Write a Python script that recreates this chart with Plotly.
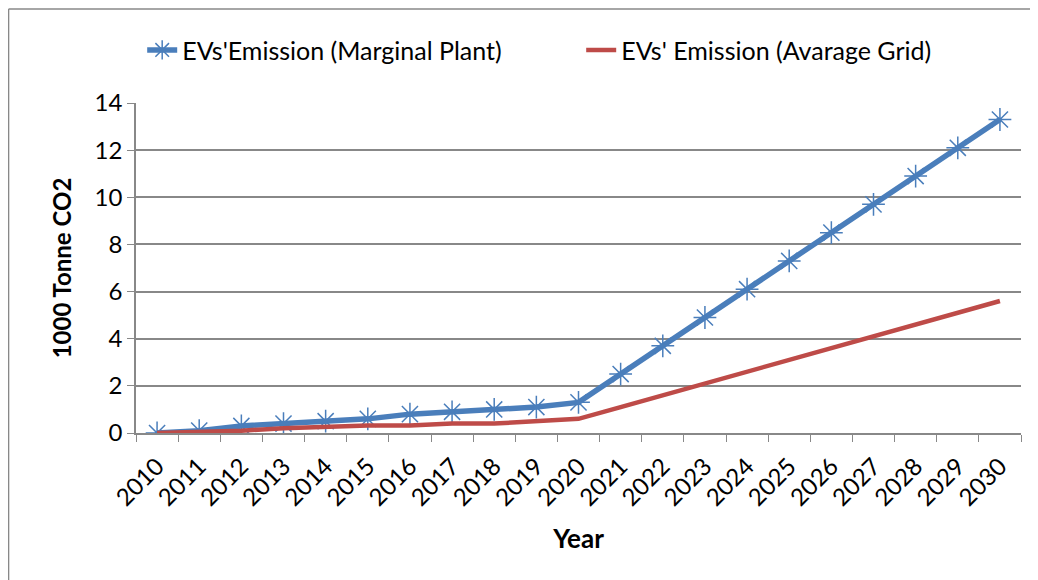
import plotly.graph_objects as go

years = [str(y) for y in range(2010, 2031)]
marginal = [0, 0.1, 0.3, 0.4, 0.5, 0.6, 0.8, 0.9, 1.0, 1.1, 1.3,
            2.5, 3.7, 4.9, 6.1, 7.3, 8.5, 9.7, 10.9, 12.1, 13.3]
average = [0, 0.05, 0.1, 0.2, 0.25, 0.32, 0.32, 0.4, 0.4, 0.48, 0.6,
           1.1, 1.6, 2.1, 2.6, 3.1, 3.6, 4.1, 4.6, 5.1, 5.6]

FONT = "Lato"

fig = go.Figure()
fig.add_trace(go.Scatter(
    x=years, y=marginal, name="EVs'Emission (Marginal Plant)",
    mode="lines+markers",
    line=dict(color="#4a7ebb", width=5.5),
    marker=dict(symbol="asterisk-open", size=19, line=dict(color="#4a7ebb", width=1.5)),
))
fig.add_trace(go.Scatter(
    x=years, y=average, name="EVs' Emission (Avarage Grid)",
    mode="lines",
    line=dict(color="#be4b48", width=4.5),
))

# chart frame: only top and left edges are visible in the window
frame = dict(color="#888888", width=1.5)

# page has an 8px body margin, so the figure is sized to fit the window
fig.update_layout(
    width=1030, height=572,
    margin=dict(l=128, r=17, t=95, b=147, autoexpand=False),
    paper_bgcolor="white", plot_bgcolor="white",
    font=dict(family=FONT, size=24, color="black"),
    showlegend=True,
    legend=dict(orientation="h", x=0.007, xanchor="left", y=1.16, yanchor="middle",
                font=dict(size=25), entrywidth=394, entrywidthmode="pixels",
                tracegroupgap=0),
    shapes=[
        dict(type="line", xref="paper", yref="paper",
             x0=-0.144, x1=1.05, y0=1.285, y1=1.285, line=frame, layer="below"),
        dict(type="line", xref="paper", yref="paper",
             x0=-0.144, x1=-0.144, y0=-0.5, y1=1.285, line=frame, layer="below"),
    ],
)
fig.update_xaxes(
    type="category", range=[-0.5, 20.5],
    tickangle=-45, tickson="boundaries", ticks="outside", ticklen=7,
    ticklabelstandoff=8,
    tickcolor="#888888", showline=True, linecolor="#888888", linewidth=1.5,
    showgrid=False,
    title=dict(text="<b>Year</b>", font=dict(size=26), standoff=20),
)
fig.update_yaxes(
    range=[0, 14], dtick=2, ticks="outside", ticklen=7, tickcolor="#888888",
    showline=True, linecolor="#888888", linewidth=1.5,
    showgrid=True, gridcolor="#888888", gridwidth=1.5, zeroline=False,
    title=dict(text="<b>1000 Tonne CO2</b>", font=dict(size=24), standoff=16),
)

fig.write_html("out.html")
